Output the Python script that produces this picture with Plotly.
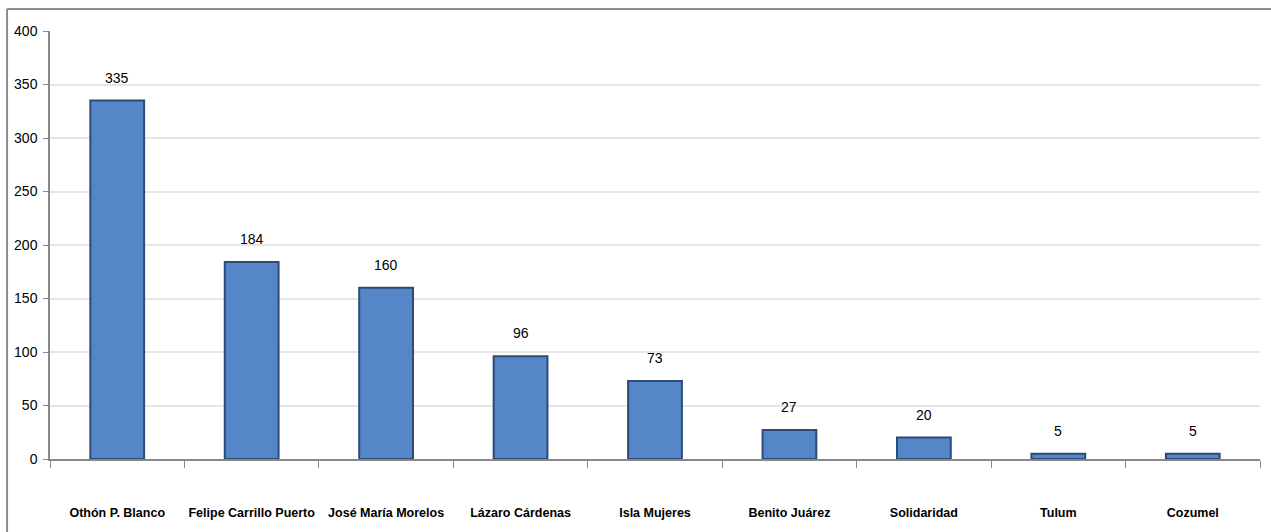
import plotly.graph_objects as go

categories = ["Othón P. Blanco", "Felipe Carrillo Puerto", "José María Morelos",
              "Lázaro Cárdenas", "Isla Mujeres", "Benito Juárez", "Solidaridad",
              "Tulum", "Cozumel"]
values = [335, 184, 160, 96, 73, 27, 20, 5, 5]
y_ticks = [0, 50, 100, 150, 200, 250, 300, 350, 400]

FONT = "Liberation Sans, Arial, sans-serif"

fig = go.Figure()
fig.add_trace(go.Bar(
    x=categories, y=values, width=0.4,
    marker=dict(color="#5586C8", line=dict(color="#2C4B77", width=2)),
    hoverinfo="x+y",
))

annotations = []
for c, v in zip(categories, values):
    annotations.append(dict(x=c, y=v, xref="x", yref="y", text=str(v),
                            showarrow=False, yanchor="bottom", yshift=13,
                            font=dict(family=FONT, size=14, color="#000000")))

fig.update_layout(
    width=1271, height=532,
    margin=dict(l=50, r=11, t=31, b=73, autoexpand=False),
    paper_bgcolor="white", plot_bgcolor="white",
    showlegend=False,
    annotations=annotations,
    font=dict(family=FONT, size=14, color="#000000"),
    xaxis=dict(
        type="category", tickson="boundaries", ticks="outside", ticklen=7,
        tickcolor="#888888", showline=True, linecolor="#888888", linewidth=1.5,
        showgrid=False, ticklabelstandoff=41, tickangle=0, automargin=False,
        tickfont=dict(family=FONT, size=12.5, color="#000000", weight="bold"),
    ),
    yaxis=dict(
        range=[0, 400], tickvals=y_ticks, ticks="outside", ticklen=5,
        tickcolor="#888888", showline=True, linecolor="#888888", linewidth=1.5,
        showgrid=True, gridcolor="#E6E6E6", gridwidth=1.5, zeroline=False,
        automargin=False, ticklabelstandoff=3,
        tickfont=dict(family=FONT, size=14, color="#000000"),
    ),
    shapes=[
        dict(type="line", xref="paper", yref="paper", x0=-0.0355, x1=1.01,
             y0=1.0514, y1=1.0514, line=dict(color="#8C8C8C", width=2)),
        dict(type="line", xref="paper", yref="paper", x0=-0.0355, x1=-0.0355,
             y0=1.0514, y1=-0.2, line=dict(color="#8C8C8C", width=2)),
    ],
)

fig.write_html("out.html", config={"displayModeBar": False},
               post_script="document.body.style.margin='0';document.body.style.overflow='hidden';")
